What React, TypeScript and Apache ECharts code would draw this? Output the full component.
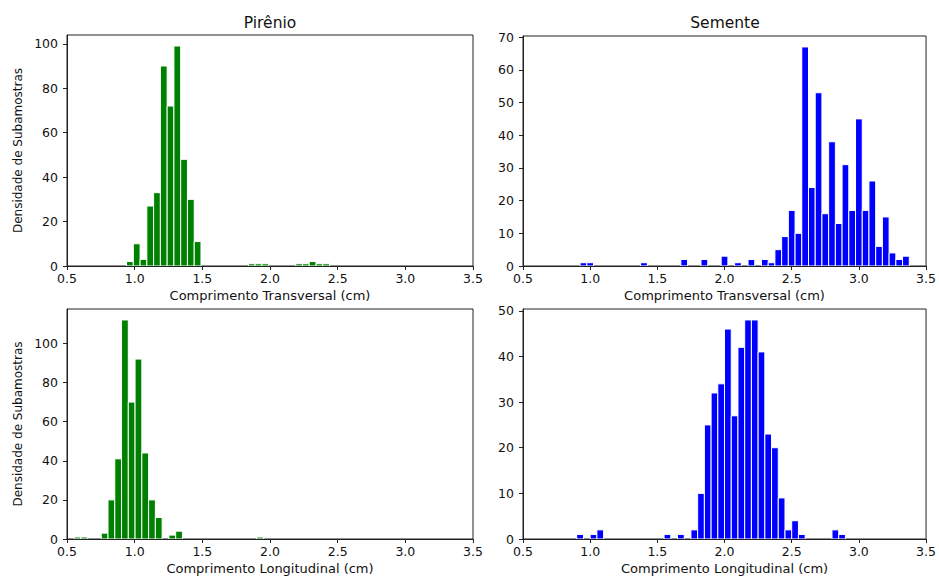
import React, { useEffect, useRef } from "react";
import * as echarts from "echarts";

// Bin centers (cm) and counts for each histogram (bin width 0.05 cm)
const binWidth = 0.05;

const pirenioTransCenters = [0.965, 1.015, 1.065, 1.115, 1.165, 1.215, 1.265, 1.315, 1.365, 1.415, 1.465, 1.865, 1.915, 1.965, 2.215, 2.265, 2.315, 2.365, 2.415];
const pirenioTransCounts = [2, 10, 3, 27, 33, 90, 72, 99, 48, 30, 11, 1, 1, 1, 1, 1, 2, 1, 1];

const sementeTransCenters = [0.95, 1.0, 1.4, 1.7, 1.85, 2.0, 2.1, 2.2, 2.3, 2.35, 2.4, 2.45, 2.5, 2.55, 2.6, 2.65, 2.7, 2.75, 2.8, 2.85, 2.9, 2.95, 3.0, 3.05, 3.1, 3.15, 3.2, 3.25, 3.3, 3.35];
const sementeTransCounts = [1, 1, 1, 2, 2, 3, 1, 2, 2, 1, 5, 9, 17, 10, 67, 24, 53, 16, 38, 13, 31, 17, 45, 17, 26, 6, 15, 4, 2, 3];

const pirenioLongCenters = [0.578, 0.628, 0.778, 0.828, 0.878, 0.928, 0.978, 1.028, 1.078, 1.128, 1.178, 1.278, 1.328, 1.928];
const pirenioLongCounts = [1, 1, 3, 20, 41, 112, 70, 92, 44, 20, 11, 2, 4, 1];

const sementeLongCenters = [0.925, 1.025, 1.075, 1.575, 1.675, 1.775, 1.825, 1.875, 1.925, 1.975, 2.025, 2.075, 2.125, 2.175, 2.225, 2.275, 2.325, 2.375, 2.425, 2.475, 2.525, 2.575, 2.825, 2.875];
const sementeLongCounts = [1, 1, 2, 1, 1, 2, 10, 25, 32, 34, 46, 27, 42, 48, 48, 41, 23, 20, 9, 2, 4, 1, 2, 1];

const xTicks = [0.5, 1.0, 1.5, 2.0, 2.5, 3.0, 3.5];
const yTicksPirenioTrans = [0, 20, 40, 60, 80, 100];
const yTicksSementeTrans = [0, 10, 20, 30, 40, 50, 60, 70];
const yTicksPirenioLong = [0, 20, 40, 60, 80, 100];
const yTicksSementeLong = [0, 10, 20, 30, 40, 50];

const titles = ["Pirênio", "Semente"];
const xNameTop = "Comprimento Transversal (cm)";
const xNameBottom = "Comprimento Longitudinal (cm)";
const yName = "Densidade de Subamostras";

const FONT = "DejaVu Sans";

export default function App() {
  const ref = useRef<HTMLDivElement>(null);

  useEffect(() => {
    if (!ref.current) return;
    const chart = echarts.init(ref.current, undefined, { renderer: "svg" });

    const panels = [
      { centers: pirenioTransCenters, counts: pirenioTransCounts, yTicks: yTicksPirenioTrans, color: "#008000", grid: { left: 67, top: 35, width: 406, height: 231 }, xName: xNameTop, showYName: true },
      { centers: sementeTransCenters, counts: sementeTransCounts, yTicks: yTicksSementeTrans, color: "#0000ff", grid: { left: 523, top: 36, width: 405, height: 230 }, xName: xNameTop, showYName: false },
      { centers: pirenioLongCenters, counts: pirenioLongCounts, yTicks: yTicksPirenioLong, color: "#008000", grid: { left: 67, top: 309, width: 406, height: 230 }, xName: xNameBottom, showYName: true },
      { centers: sementeLongCenters, counts: sementeLongCounts, yTicks: yTicksSementeLong, color: "#0000ff", grid: { left: 523, top: 309, width: 405, height: 230 }, xName: xNameBottom, showYName: false },
    ];

    const axisCommon = {
      axisLine: { show: true, lineStyle: { color: "#222", width: 1 } },
      axisTick: { show: true, inside: false, length: 4, lineStyle: { color: "#222", width: 1 } },
      splitLine: { show: false },
    };

    const option: any = {
      animation: false,
      backgroundColor: "#fff",
      textStyle: { fontFamily: FONT },
      grid: panels.map((p) => ({ ...p.grid, show: true, borderColor: "#222", borderWidth: 1, backgroundColor: "transparent", containLabel: false })),
      xAxis: panels.map((p, i) => ({
        type: "value",
        gridIndex: i,
        min: 0.5,
        max: 3.5,
        interval: 0.5,
        ...axisCommon,
        axisTick: { ...axisCommon.axisTick, customValues: xTicks },
        axisLabel: { customValues: xTicks, color: "#111", fontSize: 12.5, fontFamily: FONT, margin: 6, formatter: (v: number) => v.toFixed(1) },
        name: p.xName,
        nameLocation: "middle",
        nameGap: 23,
        nameTextStyle: { color: "#111", fontSize: 13, fontFamily: FONT },
      })),
      yAxis: panels.map((p, i) => ({
        type: "value",
        gridIndex: i,
        min: 0,
        max: Math.max(...p.counts) * 1.05,
        ...axisCommon,
        axisTick: { ...axisCommon.axisTick, customValues: p.yTicks },
        axisLabel: { customValues: p.yTicks, color: "#111", fontSize: 12.5, fontFamily: FONT, margin: 9, formatter: (v: number) => String(v) },
        name: p.showYName ? yName : "",
        nameLocation: "middle",
        nameGap: 43,
        nameRotate: 90,
        nameTextStyle: { color: "#111", fontSize: 12, fontFamily: FONT },
      })),
      series: panels.map((p, i) => ({
        type: "custom",
        xAxisIndex: i,
        yAxisIndex: i,
        clip: true,
        encode: { x: 0, y: 1 },
        data: p.centers.map((c, k) => [c, p.counts[k]]),
        renderItem: (params: any, api: any) => {
          const c = api.value(0);
          const v = api.value(1);
          const p1 = api.coord([c - binWidth / 2, v]);
          const p2 = api.coord([c + binWidth / 2, 0]);
          return {
            type: "rect",
            shape: { x: p1[0], y: p1[1], width: p2[0] - p1[0], height: p2[1] - p1[1] },
            style: { fill: p.color, stroke: "#fff", lineWidth: 1 },
          };
        },
      })),
      graphic: [
        { type: "text", x: 270, y: 23, style: { text: titles[0], align: "center", verticalAlign: "middle", fontSize: 15.5, fontFamily: FONT, fill: "#111" } },
        { type: "text", x: 725, y: 23, style: { text: titles[1], align: "center", verticalAlign: "middle", fontSize: 15.5, fontFamily: FONT, fill: "#111" } },
      ],
    };

    chart.setOption(option);
    return () => chart.dispose();
  }, []);

  return <div ref={ref} style={{ position: "fixed", left: 0, top: 0, width: 939, height: 577 }} />;
}
